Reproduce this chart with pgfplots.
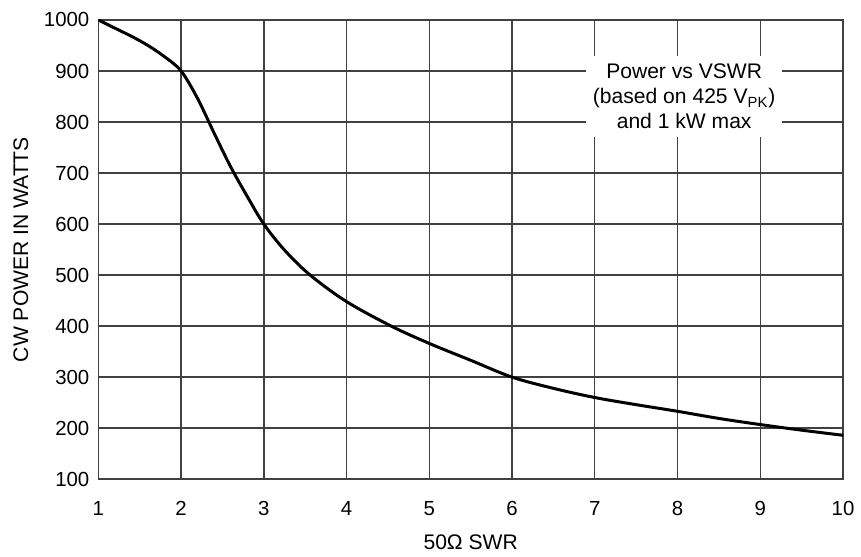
\documentclass[border=0pt]{standalone}
\usepackage{fontspec}
\setmainfont{Liberation Sans}
\usepackage{pgfplots}
\pgfplotsset{compat=1.18}

\begin{document}
\begin{tikzpicture}
\begin{axis}[
  scale only axis,
  width=373bp, height=230bp,
  xmin=1, xmax=10, ymin=100, ymax=1000,
  xtick={1,2,...,10}, ytick={100,200,...,1000},
  grid=major,
  major grid style={color=black!75, line width=0.7bp},
  axis line style={color=black!75, line width=0.7bp},
  major tick length=0pt,
  tick label style={font=\fontsize{10.25}{12}\selectfont},
  /pgf/number format/assume math mode=true,
  /pgf/number format/1000 sep={},
  xticklabel style={yshift=-7.5bp},
  yticklabel style={xshift=-1bp},
  xlabel={50Ω SWR}, ylabel={CW POWER IN WATTS},
  label style={font=\fontsize{10.6}{12}\selectfont},
  xlabel style={yshift=-3bp},
  ylabel style={yshift=1bp},
]
\addplot[black, line width=1.5bp, smooth, tension=0.55] coordinates {
  (1,1000) (1.2,984) (1.4,968) (1.6,950) (1.8,928) (2,900)
  (2.2,846) (2.4,778) (2.6,712) (2.8,654) (3,600)
  (3.25,549) (3.56,500) (4,448) (4.54,400) (5,366) (5.5,333)
  (6,300) (6.5,278) (7,260) (7.5,246) (8,233) (8.5,219)
  (9,207) (9.5,196) (10,186)
};
\node[fill=white, align=center, inner xsep=3.5bp, inner ysep=4bp,
      font=\fontsize{10.6}{12.5}\selectfont] at (axis cs:8.08,850)
  {Power vs VSWR\\(based on 425 V\textsubscript{PK})\\and 1 kW max};
\end{axis}
\path ([shift={(-49.25bp,-38.5bp)}]current axis.south west)
  rectangle ([shift={(8bp,10bp)}]current axis.north east);
\end{tikzpicture}
\end{document}
